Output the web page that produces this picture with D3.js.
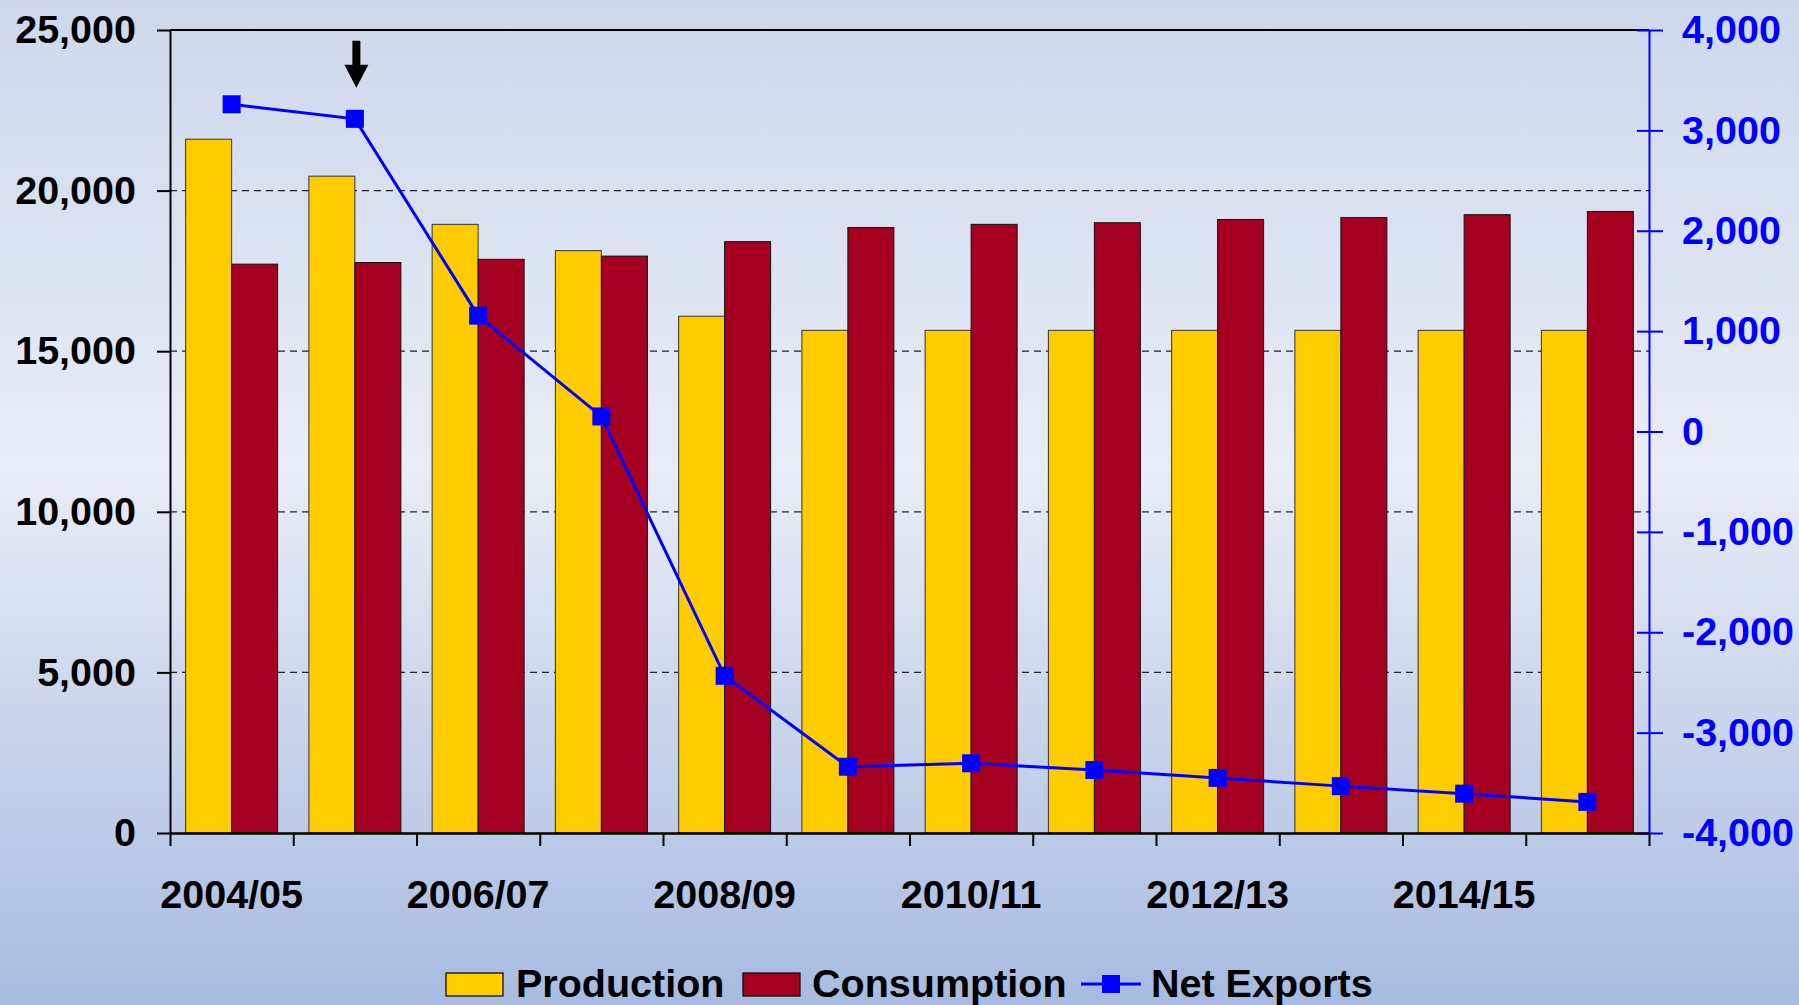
<!DOCTYPE html>
<html>
<head>
<meta charset="utf-8">
<script src="https://cdn.jsdelivr.net/npm/d3@7"></script>
<style>
  html, body { margin: 0; padding: 0; }
  svg { display: block; }
  text { font-family: "Liberation Sans", Arial, sans-serif; font-weight: bold; }
</style>
</head>
<body>
<div id="chart"></div>
<script>
'use strict';

// Data
var years = ["2004/05", "2005/06", "2006/07", "2007/08", "2008/09", "2009/10",
             "2010/11", "2011/12", "2012/13", "2013/14", "2014/15", "2015/16"];
var production = [21600, 20450, 18950, 18130, 16090, 15650, 15650, 15650, 15650, 15650, 15650, 15650];
var consumption = [17710, 17760, 17860, 17960, 18410, 18850, 18950, 19000, 19100, 19160, 19250, 19350];
var netExports = [3260, 3115, 1154, 150, -2434, -3340, -3305, -3372, -3451, -3533, -3608, -3690];
var leftTicks = [0, 5000, 10000, 15000, 20000, 25000];
var rightTicks = [-4000, -3000, -2000, -1000, 0, 1000, 2000, 3000, 4000];
var gridTicks = [5000, 10000, 15000, 20000];
var xLabels = ["2004/05", "2006/07", "2008/09", "2010/11", "2012/13", "2014/15"];
var seriesNames = ["Production", "Consumption", "Net Exports"];

var svgWidth = 1799, svgHeight = 1005;
var margin = {top: 30, right: 150, bottom: 172, left: 170};
var plotRight = svgWidth - margin.right;
var plotBottom = svgHeight - margin.bottom;

var colorProd = "#ffcc00", colorCons = "#a50021", colorNet = "#0000ff";
var fontSize = "39.5px";

// thousands separator, plain hyphen for negatives
var fmt = function(d) { return d3.format(",")(d).replace("\u2212", "-"); };

var svg = d3.select("#chart").append("svg")
  .attr("width", svgWidth)
  .attr("height", svgHeight);

// background gradient
var grad = svg.append("defs").append("linearGradient")
  .attr("id", "bg")
  .attr("x1", 0).attr("y1", 0).attr("x2", 0).attr("y2", 1);
grad.append("stop").attr("offset", "0").attr("stop-color", "#cdd8ec");
grad.append("stop").attr("offset", "0.47").attr("stop-color", "#e8ecf6");
grad.append("stop").attr("offset", "1").attr("stop-color", "#a7bbe0");

svg.append("rect")
  .attr("width", svgWidth)
  .attr("height", svgHeight)
  .attr("fill", "url(#bg)");

// scales
var x = d3.scaleBand().domain(years).range([margin.left, plotRight]).padding(0);
var xInner = d3.scaleBand().domain(["prod", "cons"]).range([0, x.bandwidth()]).paddingOuter(0.34);
var xIdx = d3.scaleLinear().domain([0, years.length]).range([margin.left, plotRight]);
var yL = d3.scaleLinear().domain([0, 25000]).range([plotBottom, margin.top]);
var yR = d3.scaleLinear().domain([-4000, 4000]).range([plotBottom, margin.top]);

// dashed grid
svg.append("g")
  .selectAll("line")
  .data(gridTicks)
  .enter().append("line")
  .attr("x1", margin.left)
  .attr("x2", plotRight)
  .attr("y1", function(d) { return yL(d); })
  .attr("y2", function(d) { return yL(d); })
  .attr("stroke", "#222")
  .attr("stroke-width", 1.2)
  .attr("stroke-dasharray", "7,5");

// top border
svg.append("line")
  .attr("x1", margin.left)
  .attr("x2", plotRight)
  .attr("y1", yL(25000))
  .attr("y2", yL(25000))
  .attr("stroke", "#000")
  .attr("stroke-width", 2);

// bars
var groups = svg.append("g")
  .selectAll("g")
  .data(years)
  .enter().append("g")
  .attr("transform", function(d) { return "translate(" + x(d) + ",0)"; });

groups.append("rect")
  .attr("x", xInner("prod"))
  .attr("width", xInner.bandwidth())
  .attr("y", function(d, i) { return yL(production[i]); })
  .attr("height", function(d, i) { return yL(0) - yL(production[i]); })
  .attr("fill", colorProd)
  .attr("stroke", "#333")
  .attr("stroke-width", 1);

groups.append("rect")
  .attr("x", xInner("cons"))
  .attr("width", xInner.bandwidth())
  .attr("y", function(d, i) { return yL(consumption[i]); })
  .attr("height", function(d, i) { return yL(0) - yL(consumption[i]); })
  .attr("fill", colorCons)
  .attr("stroke", "#111")
  .attr("stroke-width", 1);

// left axis
var leftAxis = svg.append("g")
  .attr("transform", "translate(" + margin.left + ",0)")
  .call(d3.axisLeft(yL).tickValues(leftTicks).tickSize(13).tickSizeOuter(0)
    .tickPadding(21).tickFormat(fmt));
leftAxis.select(".domain").attr("stroke", "#000").attr("stroke-width", 2);
leftAxis.selectAll(".tick line").attr("stroke", "#000").attr("stroke-width", 2);
leftAxis.selectAll("text").attr("fill", "#000").style("font-size", fontSize);

// right axis
var rightAxis = svg.append("g")
  .attr("transform", "translate(" + plotRight + ",0)")
  .call(d3.axisRight(yR).tickValues(rightTicks).tickSize(14).tickSizeOuter(0)
    .tickPadding(19).tickFormat(fmt));
rightAxis.select(".domain").attr("stroke", colorNet).attr("stroke-width", 2);
rightAxis.selectAll(".tick line").attr("x1", -12).attr("stroke", colorNet).attr("stroke-width", 2);
rightAxis.selectAll("text").attr("fill", colorNet).style("font-size", fontSize);

// bottom axis: ticks on category boundaries
var bottomAxis = svg.append("g")
  .attr("transform", "translate(0," + plotBottom + ")")
  .call(d3.axisBottom(xIdx).tickValues(d3.range(years.length + 1)).tickSize(13)
    .tickSizeOuter(0).tickFormat(""));
bottomAxis.select(".domain").attr("stroke", "#000").attr("stroke-width", 2.5);
bottomAxis.selectAll(".tick line").attr("stroke", "#000").attr("stroke-width", 2);

// bottom labels on every other category
var labelAxis = svg.append("g")
  .attr("transform", "translate(0," + plotBottom + ")")
  .call(d3.axisBottom(x).tickValues(xLabels).tickSize(0).tickPadding(47));
labelAxis.select(".domain").remove();
labelAxis.selectAll("text").attr("fill", "#000").style("font-size", fontSize);

// net exports line
var line = d3.line()
  .x(function(d, i) { return x(years[i]) + x.bandwidth() / 2; })
  .y(function(d) { return yR(d); });

svg.append("path")
  .datum(netExports)
  .attr("d", line)
  .attr("fill", "none")
  .attr("stroke", colorNet)
  .attr("stroke-width", 3);

var markerSize = 18;
svg.append("g")
  .selectAll("rect")
  .data(netExports)
  .enter().append("rect")
  .attr("x", function(d, i) { return x(years[i]) + x.bandwidth() / 2 - markerSize / 2; })
  .attr("y", function(d) { return yR(d) - markerSize / 2; })
  .attr("width", markerSize)
  .attr("height", markerSize)
  .attr("fill", colorNet);

// arrow pointing at 2005/06
var ax = x(years[1]) + x.bandwidth() / 2 + 1.5;
var tipY = yR(netExports[1]) - 31;
svg.append("path")
  .attr("d", "M" + (ax - 4) + "," + (tipY - 47) +
    "H" + (ax + 4) + "V" + (tipY - 23) +
    "H" + (ax + 12) + "L" + ax + "," + tipY +
    "L" + (ax - 12) + "," + (tipY - 23) +
    "H" + (ax - 4) + "Z")
  .attr("fill", "#000");

// legend
var legend = svg.append("g");
var legendY = 984;

legend.append("rect")
  .attr("x", 446).attr("y", legendY - 11)
  .attr("width", 57).attr("height", 23)
  .attr("fill", colorProd).attr("stroke", "#000").attr("stroke-width", 1.2);
legend.append("text")
  .attr("x", 516).attr("y", 997)
  .style("font-size", fontSize)
  .text(seriesNames[0]);

legend.append("rect")
  .attr("x", 743).attr("y", legendY - 11)
  .attr("width", 57).attr("height", 23)
  .attr("fill", colorCons).attr("stroke", "#000").attr("stroke-width", 1.2);
legend.append("text")
  .attr("x", 812).attr("y", 997)
  .style("font-size", fontSize)
  .text(seriesNames[1]);

legend.append("line")
  .attr("x1", 1081).attr("x2", 1141)
  .attr("y1", legendY).attr("y2", legendY)
  .attr("stroke", colorNet).attr("stroke-width", 3);
legend.append("rect")
  .attr("x", 1111 - markerSize / 2).attr("y", legendY - markerSize / 2)
  .attr("width", markerSize).attr("height", markerSize)
  .attr("fill", colorNet);
legend.append("text")
  .attr("x", 1151).attr("y", 997)
  .style("font-size", fontSize)
  .text(seriesNames[2]);
</script>
</body>
</html>
